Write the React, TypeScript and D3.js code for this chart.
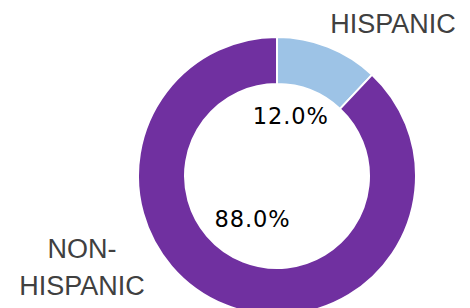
import React, { useRef, useEffect } from 'react';
import * as d3 from 'd3';

const categories = ['HISPANIC', 'NON-HISPANIC'];
const shares = [12.0, 88.0];
const sliceColors = ['#9DC3E6', '#7030A0'];

const W = 470;
const H = 308;

const App = () => {
  const ref = useRef<SVGSVGElement>(null);

  useEffect(() => {
    const svg = d3.select(ref.current);
    svg.selectAll('*').remove();

    const cx = 277;
    const cy = 176;
    const outer = 139;
    const inner = 92;

    const g = svg.append('g').attr('transform', `translate(${cx},${cy})`);

    const pie = d3.pie<number>().sort(null).value(d => d);
    const arcs = pie(shares);

    const arc = d3.arc<d3.PieArcDatum<number>>()
      .innerRadius(inner)
      .outerRadius(outer);

    g.selectAll('path.slice')
      .data(arcs)
      .enter()
      .append('path')
      .attr('class', 'slice')
      .attr('d', arc)
      .attr('fill', (d, i) => sliceColors[i])
      .attr('stroke', '#fff')
      .attr('stroke-width', 2);

    // percentage labels inside the hole, nudged off each slice's middle
    const labelR = [62, 49];
    const turn = [-0.152, 0.147];

    g.selectAll('text.pct')
      .data(arcs)
      .enter()
      .append('text')
      .attr('class', 'pct')
      .attr('transform', (d, i) => {
        const a = (d.startAngle + d.endAngle) / 2 + turn[i];
        return `translate(${labelR[i] * Math.sin(a)},${-labelR[i] * Math.cos(a)})`;
      })
      .attr('text-anchor', 'middle')
      .attr('dy', '0.36em')
      .attr('font-family', 'DejaVu Sans, sans-serif')
      .attr('font-size', 22.5)
      .attr('letter-spacing', 0.9)
      .attr('fill', '#000')
      .text(d => `${d.data.toFixed(1)}%`);

    // category names outside the ring
    svg.append('text')
      .attr('x', 393)
      .attr('y', 33)
      .attr('text-anchor', 'middle')
      .attr('font-family', 'Liberation Sans, Arial, sans-serif')
      .attr('font-size', 27)
      .attr('fill', '#404040')
      .text(categories[0]);

    const nonLabel = svg.append('text')
      .attr('text-anchor', 'middle')
      .attr('font-family', 'Liberation Sans, Arial, sans-serif')
      .attr('font-size', 27)
      .attr('fill', '#404040');
    const parts = categories[1].split('-');
    nonLabel.append('tspan').attr('x', 82).attr('y', 258).text(parts[0] + '-');
    nonLabel.append('tspan').attr('x', 82).attr('y', 295).text(parts[1]);

    return () => {
      d3.select(ref.current).selectAll('*').remove();
    };
  }, []);

  return (
    <svg
      ref={ref}
      width={W}
      height={H}
      style={{ position: 'absolute', left: 0, top: 0, background: '#fff' }}
    ></svg>
  );
};

export default App;
